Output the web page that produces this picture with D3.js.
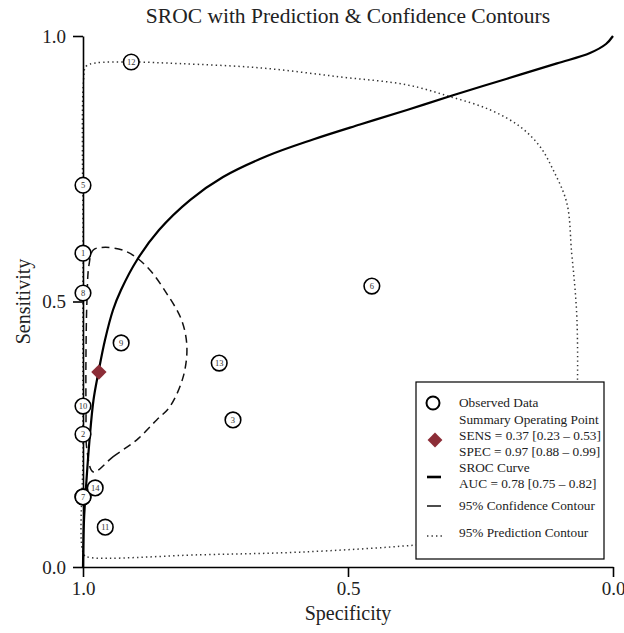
<!DOCTYPE html>
<html>
<head>
<meta charset="utf-8">
<script src="https://d3js.org/d3.v7.min.js"></script>
<style>
  body { margin: 0; background: #fff; }
  svg text { font-family: "Liberation Serif", "DejaVu Serif", serif; }
</style>
</head>
<body>
<svg id="chart" width="624" height="633"></svg>
<script>
// study points: [specificity, sensitivity]
var studyIds = ["1", "2", "3", "4", "5", "6", "7", "8", "9", "10", "11", "12", "13", "14"];
var studySpec = [1.0, 1.0, 0.717, 1.0, 1.0, 0.455, 1.0, 1.0, 0.928, 1.0, 0.958, 0.909, 0.743, 0.977];
var studySens = [0.591, 0.250, 0.277, 0.132, 0.719, 0.529, 0.132, 0.516, 0.422, 0.303, 0.075, 0.951, 0.384, 0.149];

var summaryPoint = [0.97, 0.367];

// SROC curve
var srocSpec = [1.0, 0.9981, 0.9934, 0.9877, 0.9802, 0.9708, 0.9585, 0.9434, 0.9283, 0.8981, 0.8566, 0.7981, 0.7358, 0.6528, 0.566, 0.4774, 0.3887, 0.3019, 0.2, 0.1057, 0.0434, 0.0132, 0.0];
var srocSens = [0.0, 0.0885, 0.1638, 0.2392, 0.3145, 0.3672, 0.4275, 0.484, 0.5217, 0.5782, 0.6347, 0.6911, 0.7345, 0.774, 0.8051, 0.8333, 0.8606, 0.8883, 0.9196, 0.9484, 0.968, 0.9849, 1.0];

// 95% confidence contour
var confSpec = [0.9806, 0.943, 0.899, 0.861, 0.836, 0.811, 0.804, 0.814, 0.842, 0.880, 0.918, 0.958, 0.9806, 0.9887, 0.9925, 0.9943, 0.9943, 0.9925];
var confSens = [0.179, 0.208, 0.239, 0.277, 0.302, 0.358, 0.415, 0.465, 0.515, 0.566, 0.594, 0.602, 0.597, 0.569, 0.503, 0.409, 0.296, 0.220];

// 95% prediction contour
var predSpec = [0.999, 0.9943, 0.977, 0.909, 0.817, 0.666, 0.515, 0.389, 0.308, 0.232, 0.175, 0.138, 0.113, 0.087, 0.078, 0.072, 0.068, 0.067, 0.072, 0.091, 0.138, 0.251, 0.377, 0.591, 0.779, 0.987, 0.998, 1.0, 1.0];
var predSens = [0.917, 0.943, 0.949, 0.951, 0.948, 0.940, 0.923, 0.908, 0.886, 0.861, 0.829, 0.792, 0.748, 0.685, 0.591, 0.528, 0.465, 0.352, 0.220, 0.126, 0.079, 0.055, 0.041, 0.028, 0.023, 0.018, 0.023, 0.22, 0.597];

var axisTicks = [1.0, 0.5, 0.0];

var legendLines = [
    "Observed Data",
    "Summary Operating Point",
    "SENS = 0.37 [0.23 \u2013 0.53]",
    "SPEC = 0.97 [0.88 \u2013 0.99]",
    "SROC Curve",
    "AUC = 0.78 [0.75 \u2013 0.82]",
    "95% Confidence Contour",
    "95% Prediction Contour"
];

var serif = "Liberation Serif, DejaVu Serif, serif";
var svg = d3.select("#chart");

var x = d3.scaleLinear().domain([1, 0]).range([83, 613]);
var y = d3.scaleLinear().domain([0, 1]).range([567, 36]);

function zipPts(a, b) {
    return a.map(function(v, i) { return [v, b[i]]; });
}

var line = d3.line()
    .x(function(d) { return x(d[0]); })
    .y(function(d) { return y(d[1]); });

// prediction contour (dotted)
svg.append("path")
    .attr("d", line.curve(d3.curveCatmullRomClosed.alpha(0.5))(zipPts(predSpec, predSens)))
    .attr("fill", "none")
    .attr("stroke", "#333")
    .attr("stroke-width", 1.5)
    .attr("stroke-dasharray", "1.4,3.1");

// confidence contour (dashed)
svg.append("path")
    .attr("d", line.curve(d3.curveCatmullRomClosed.alpha(0.5))(zipPts(confSpec, confSens)))
    .attr("fill", "none")
    .attr("stroke", "#111")
    .attr("stroke-width", 1.5)
    .attr("stroke-dasharray", "8,5");

// SROC curve
svg.append("path")
    .attr("d", line.curve(d3.curveCatmullRom.alpha(0.5))(zipPts(srocSpec, srocSens)))
    .attr("fill", "none")
    .attr("stroke", "#000")
    .attr("stroke-width", 2.2);

// axes
var xAxis = svg.append("g")
    .attr("transform", "translate(0," + y(0) + ")")
    .call(d3.axisBottom(x).tickValues(axisTicks).tickSize(10).tickSizeOuter(0).tickFormat(d3.format(".1f")));
var yAxis = svg.append("g")
    .attr("transform", "translate(" + x(1) + ",0)")
    .call(d3.axisLeft(y).tickValues(axisTicks).tickSize(10).tickSizeOuter(0).tickFormat(d3.format(".1f")));

[xAxis, yAxis].forEach(function(g) {
    g.attr("font-family", serif);
    g.selectAll("path, line").attr("stroke", "#000").attr("stroke-width", 1.6);
    g.selectAll("text")
        .attr("fill", "#222")
        .style("font-size", "19px");
});
xAxis.selectAll("text").attr("y", 15);
yAxis.selectAll("text").attr("x", -17);

// study circles
var studies = studyIds.map(function(id, i) { return {id: id, spec: studySpec[i], sens: studySens[i]}; });

var pts = svg.append("g").selectAll("g")
    .data(studies)
    .enter().append("g")
    .attr("transform", function(d) { return "translate(" + x(d.spec) + "," + y(d.sens) + ")"; });

pts.append("circle")
    .attr("r", 7.8)
    .attr("fill", "#fff")
    .attr("stroke", "#000")
    .attr("stroke-width", 1.6);

pts.append("text")
    .attr("text-anchor", "middle")
    .attr("dy", "0.35em")
    .attr("fill", "#333")
    .style("font-size", "8.5px")
    .text(function(d) { return d.id; });

// summary operating point
var sym = d3.symbol().type(d3.symbolDiamond2).size(150);
svg.append("path")
    .attr("d", sym())
    .attr("transform", "translate(" + x(summaryPoint[0]) + "," + y(summaryPoint[1]) + ")")
    .attr("fill", "#8c2d37");

// title + axis titles
svg.append("text")
    .attr("x", (x(1) + x(0)) / 2)
    .attr("y", 23)
    .attr("text-anchor", "middle")
    .attr("fill", "#222")
    .style("font-size", "21.5px")
    .text("SROC with Prediction & Confidence Contours");

svg.append("text")
    .attr("x", (x(1) + x(0)) / 2)
    .attr("y", 620)
    .attr("text-anchor", "middle")
    .attr("fill", "#222")
    .style("font-size", "20px")
    .text("Specificity");

svg.append("text")
    .attr("transform", "translate(30," + y(0.5) + ") rotate(-90)")
    .attr("text-anchor", "middle")
    .attr("fill", "#222")
    .style("font-size", "20px")
    .text("Sensitivity");

// legend
var legend = svg.append("g");
legend.append("rect")
    .attr("x", 416).attr("y", 382)
    .attr("width", 188).attr("height", 177)
    .attr("fill", "#fff")
    .attr("stroke", "#000")
    .attr("stroke-width", 1.2);

var legendY = [407, 424, 440, 456, 472, 488, 510, 537];
legend.selectAll("text")
    .data(legendLines)
    .enter().append("text")
    .attr("x", 459)
    .attr("y", function(d, i) { return legendY[i]; })
    .attr("fill", "#222")
    .style("font-size", "13.3px")
    .text(function(d) { return d; });

legend.append("circle")
    .attr("cx", 433).attr("cy", 403).attr("r", 6.5)
    .attr("fill", "#fff").attr("stroke", "#000").attr("stroke-width", 2);
legend.append("path")
    .attr("d", d3.symbol().type(d3.symbolDiamond2).size(140)())
    .attr("transform", "translate(435,440)")
    .attr("fill", "#8c2d37");
legend.append("line")
    .attr("x1", 427).attr("x2", 441).attr("y1", 477).attr("y2", 477)
    .attr("stroke", "#000").attr("stroke-width", 2.6);
legend.append("line")
    .attr("x1", 427).attr("x2", 441).attr("y1", 506).attr("y2", 506)
    .attr("stroke", "#111").attr("stroke-width", 1.5);
legend.append("line")
    .attr("x1", 427).attr("x2", 442).attr("y1", 536).attr("y2", 536)
    .attr("stroke", "#333").attr("stroke-width", 1.5)
    .attr("stroke-dasharray", "1.4,3.1");
</script>
</body>
</html>
